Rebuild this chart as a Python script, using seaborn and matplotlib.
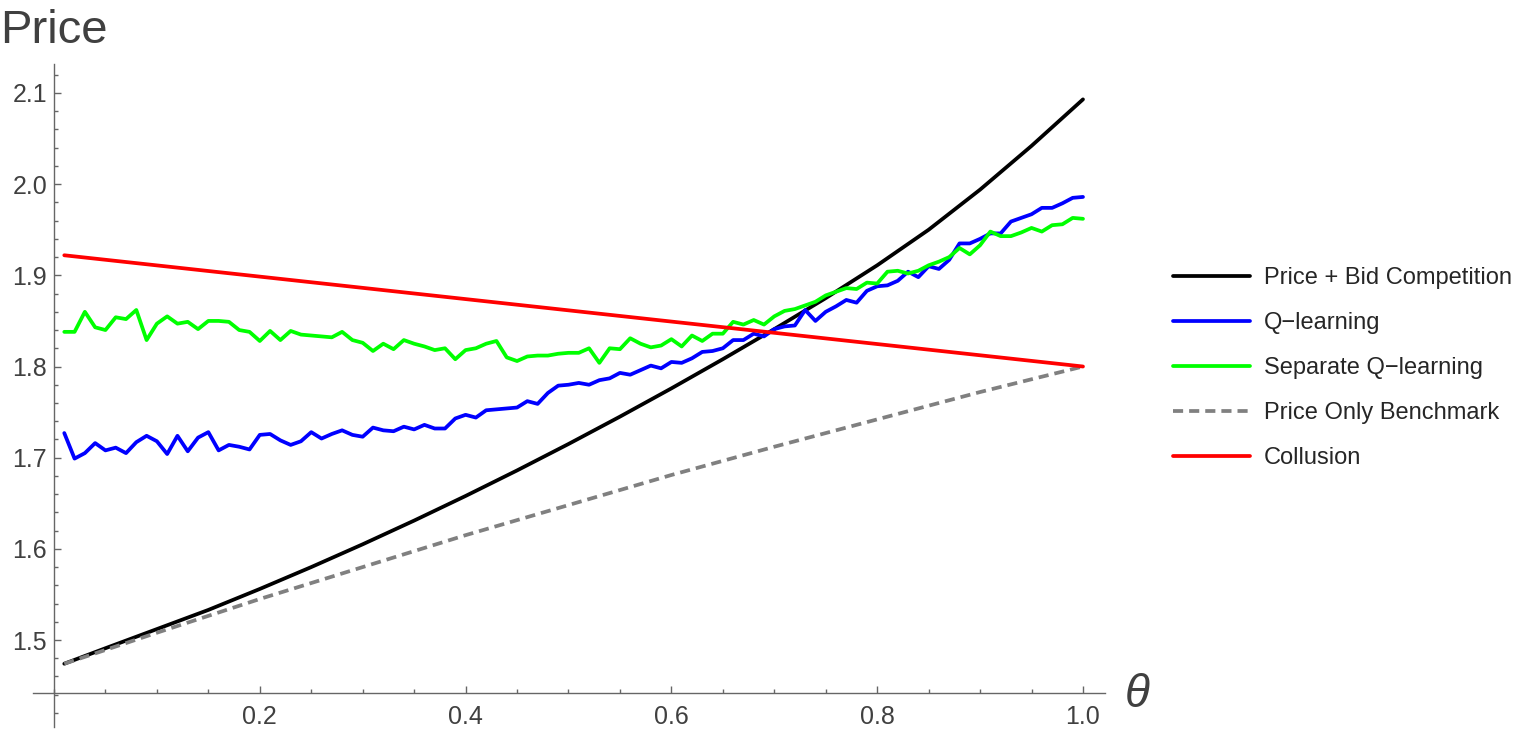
import numpy as np
import pandas as pd
import seaborn as sns
import matplotlib.pyplot as plt
from matplotlib.ticker import FixedLocator, MultipleLocator

# theta grid of the simulations (0.01 .. 1.00)
theta = np.round(np.arange(1, 101) * 0.01, 2)

q_learning = [
    1.727, 1.699, 1.705, 1.716, 1.708, 1.711, 1.705, 1.717, 1.724, 1.718,
    1.704, 1.724, 1.707, 1.722, 1.728, 1.708, 1.714, 1.712, 1.709, 1.725,
    1.726, 1.719, 1.714, 1.718, 1.728, 1.721, 1.726, 1.730, 1.725, 1.723,
    1.733, 1.730, 1.729, 1.734, 1.731, 1.736, 1.732, 1.732, 1.743, 1.747,
    1.744, 1.752, 1.753, 1.754, 1.755, 1.762, 1.759, 1.771, 1.779, 1.780,
    1.782, 1.780, 1.785, 1.787, 1.793, 1.791, 1.796, 1.801, 1.798, 1.805,
    1.804, 1.809, 1.816, 1.817, 1.820, 1.829, 1.829, 1.836, 1.833, 1.841,
    1.844, 1.845, 1.862, 1.850, 1.860, 1.866, 1.873, 1.870, 1.883, 1.888,
    1.889, 1.894, 1.904, 1.898, 1.910, 1.907, 1.917, 1.935, 1.935, 1.940,
    1.946, 1.946, 1.959, 1.963, 1.967, 1.974, 1.974, 1.979, 1.985, 1.986,
]

sep_q_learning = [
    1.838, 1.838, 1.860, 1.843, 1.840, 1.854, 1.852, 1.862, 1.829, 1.847,
    1.855, 1.847, 1.849, 1.841, 1.850, 1.850, 1.849, 1.840, 1.838, 1.828,
    1.839, 1.829, 1.839, 1.835, 1.834, 1.833, 1.832, 1.838, 1.829, 1.826,
    1.817, 1.825, 1.819, 1.829, 1.825, 1.822, 1.818, 1.820, 1.808, 1.818,
    1.820, 1.825, 1.828, 1.810, 1.806, 1.811, 1.812, 1.812, 1.814, 1.815,
    1.815, 1.820, 1.804, 1.820, 1.819, 1.831, 1.825, 1.821, 1.823, 1.830,
    1.822, 1.834, 1.828, 1.836, 1.836, 1.849, 1.846, 1.851, 1.846, 1.855,
    1.861, 1.863, 1.867, 1.871, 1.878, 1.882, 1.886, 1.885, 1.892, 1.891,
    1.904, 1.905, 1.902, 1.905, 1.911, 1.915, 1.920, 1.930, 1.923, 1.933,
    1.948, 1.943, 1.943, 1.947, 1.952, 1.948, 1.955, 1.956, 1.963, 1.962,
]

# smooth theoretical curves
theta_bid = [0.01, 0.05, 0.1, 0.15, 0.2, 0.25, 0.3, 0.35, 0.4, 0.45, 0.5,
             0.55, 0.6, 0.65, 0.7, 0.75, 0.8, 0.85, 0.9, 0.95, 1.0]
price_bid = [1.474, 1.491, 1.512, 1.533, 1.556, 1.580, 1.605, 1.631, 1.658,
             1.686, 1.715, 1.745, 1.776, 1.808, 1.841, 1.875, 1.911, 1.950,
             1.994, 2.042, 2.093]

theta_po = [0.01, 0.1, 0.2, 0.3, 0.4, 0.5, 0.6, 0.7, 0.8, 0.9, 1.0]
price_only = [1.474, 1.508, 1.545, 1.580, 1.615, 1.648, 1.681, 1.712, 1.742,
              1.772, 1.800]

theta_col = [0.01, 1.0]
collusion = [1.922, 1.800]

labels = ["Price + Bid Competition", "Q\u2212learning", "Separate Q\u2212learning",
          "Price Only Benchmark", "Collusion"]

sns.set_style("white")
plt.rcParams['font.family'] = ['Liberation Sans', 'DejaVu Sans']

axis_col = "#666666"
text_col = "#404040"

fig = plt.figure(figsize=(15.26, 7.31), dpi=100)
ax = fig.add_axes([33 / 1526, 1 - 727 / 731, (1105 - 33) / 1526, (727 - 64) / 731])

lw = 2.7
sns.lineplot(x=theta_bid, y=price_bid, color="black", lw=lw, label=labels[0], ax=ax)
sns.lineplot(x=theta, y=q_learning, color="#0000ff", lw=lw, label=labels[1], ax=ax)
sns.lineplot(x=theta, y=sep_q_learning, color="#00ff00", lw=lw, label=labels[2], ax=ax)
sns.lineplot(x=theta_po, y=price_only, color="#808080", lw=lw, label=labels[3], ax=ax)
ax.lines[-1].set_dashes([2.7, 1.6])
sns.lineplot(x=theta_col, y=collusion, color="#ff0000", lw=lw, label=labels[4], ax=ax)

handles, labs = ax.get_legend_handles_labels()
if ax.get_legend() is not None:
    ax.get_legend().remove()

ax.set_xlim(-0.0204, 1.0214)
ax.set_ylim(1.4046, 2.1318)
ax.set_xlabel("")
ax.set_ylabel("")

# Mathematica-style crossing axes
for s in ["top", "right"]:
    ax.spines[s].set_visible(False)
ax.spines["left"].set_position(("data", 0))
ax.spines["bottom"].set_position(("data", 1.442))
for s in ["left", "bottom"]:
    ax.spines[s].set_color(axis_col)
    ax.spines[s].set_linewidth(1.0)

ax.xaxis.set_major_locator(FixedLocator([0.2, 0.4, 0.6, 0.8, 1.0]))
ax.xaxis.set_minor_locator(MultipleLocator(0.05))
ax.yaxis.set_major_locator(FixedLocator([1.5, 1.6, 1.7, 1.8, 1.9, 2.0, 2.1]))
ax.yaxis.set_minor_locator(MultipleLocator(0.02))
ax.set_xticklabels(["0.2", "0.4", "0.6", "0.8", "1.0"])
ax.set_yticklabels(["1.5", "1.6", "1.7", "1.8", "1.9", "2.0", "2.1"])

ax.tick_params(which="both", direction="in", color=axis_col, width=1.0,
               labelcolor=text_col, labelsize=18)
ax.tick_params(which="major", length=5)
ax.tick_params(which="minor", length=3.2)
ax.tick_params(axis="y", which="both", left=True, pad=5)
ax.tick_params(axis="x", which="both", bottom=True, pad=9)

fig.text(0.0, 1 - 43 / 731, "Price", fontsize=34, color=text_col, va="baseline", ha="left")
fig.text(1137 / 1526, 1 - 695 / 731, "\u03b8", fontsize=33, style="italic",
         color=text_col, ha="center", va="center")

fig.legend(handles, labs, loc="center left", bbox_to_anchor=(1173 / 1526, 1 - 368 / 731),
           frameon=False, fontsize=17, handlelength=3.26, handletextpad=0.6,
           labelspacing=0.97, borderpad=0, borderaxespad=0)

fig.savefig("out.png", dpi=100)
